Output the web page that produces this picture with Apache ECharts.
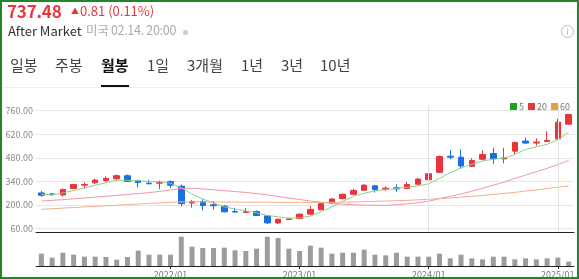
<!DOCTYPE html>
<html><head><meta charset="utf-8">
<script src="https://cdn.jsdelivr.net/npm/echarts@6/dist/echarts.min.js"></script>
<style>
html,body{margin:0;padding:0;background:#fff;}
#wrap{position:relative;width:579px;height:279px;overflow:hidden;font-family:"Noto Sans CJK KR","Noto Sans",sans-serif;}
#chart{position:absolute;left:0;top:0;width:579px;height:279px;}
.t{position:absolute;white-space:nowrap;line-height:1;}
#border{position:absolute;left:0;top:0;width:579px;height:279px;box-sizing:border-box;border:2px solid #23852a;pointer-events:none;}
</style></head>
<body><div id="wrap">
<div id="chart"></div>
<span class="t" style="left:7px;top:2px;font-size:17px;font-weight:bold;color:#e4383d;letter-spacing:-0.2px;">737.48</span>
<span class="t" style="left:71px;top:7px;font-size:8px;color:#e4383d;">▲</span>
<span class="t" style="left:80px;top:4px;font-size:13px;color:#e4383d;">0.81 (0.11%)</span>
<span class="t" style="left:8px;top:24px;font-size:13px;color:#333;">After Market</span>
<span class="t" style="left:86px;top:24px;font-size:12.5px;color:#aaa;letter-spacing:-0.3px;">미국 02.14. 20:00</span>
<span style="position:absolute;left:183px;top:30px;width:5px;height:5px;border-radius:50%;background:#ccc;"></span>
<span class="t" style="left:561px;top:25px;width:11px;height:11px;border:1px solid #bbb;border-radius:50%;font-size:9px;color:#bbb;text-align:center;line-height:11px;">i</span>
<span class="t" style="left:10px;top:57px;font-size:15px;color:#444;">일봉</span>
<span class="t" style="left:55px;top:57px;font-size:15px;color:#444;">주봉</span>
<span class="t" style="left:101px;top:57px;font-size:15px;color:#111;font-weight:bold;">월봉</span>
<span class="t" style="left:147px;top:57px;font-size:15px;color:#444;">1일</span>
<span class="t" style="left:187px;top:57px;font-size:15px;color:#444;">3개월</span>
<span class="t" style="left:241px;top:57px;font-size:15px;color:#444;">1년</span>
<span class="t" style="left:281px;top:57px;font-size:15px;color:#444;">3년</span>
<span class="t" style="left:320px;top:57px;font-size:15px;color:#444;">10년</span>
<div style="position:absolute;left:2px;top:87px;width:575px;height:1px;background:#eee;"></div>
<div style="position:absolute;left:101px;top:85px;width:28px;height:2px;background:#111;"></div>
<div id="border"></div>
</div>
<script>
const categories = ["2021/01","2021/02","2021/03","2021/04","2021/05","2021/06","2021/07","2021/08","2021/09","2021/10","2021/11","2021/12",
"2022/01","2022/02","2022/03","2022/04","2022/05","2022/06","2022/07","2022/08","2022/09","2022/10","2022/11","2022/12",
"2023/01","2023/02","2023/03","2023/04","2023/05","2023/06","2023/07","2023/08","2023/09","2023/10","2023/11","2023/12",
"2024/01","2024/02","2024/03","2024/04","2024/05","2024/06","2024/07","2024/08","2024/09","2024/10","2024/11","2024/12",
"2025/01","2025/02"];
const openP  = [272,266,260,298,318,332,346,356,374,344,330,330,340,312,212,220,202,194,162,156,162,136,94,114,120,146,172,210,238,264,288,314,294,302,298,324,350,394,490,484,430,472,506,474,520,580,568,578,592,680];
const closeP = [258,262,292,322,322,348,358,374,340,334,326,334,318,208,220,198,196,160,158,160,138,94,116,118,146,174,208,236,264,286,318,292,300,296,322,354,386,488,484,432,464,500,476,480,572,568,574,584,692,737.48];
const lowP   = [248,256,250,296,298,326,338,346,338,306,324,294,302,192,184,168,174,156,158,156,134,88,88,112,116,140,170,206,234,258,284,274,284,278,296,318,342,390,472,414,426,466,444,448,500,562,552,578,588,676];
const highP  = [284,272,298,326,334,356,370,382,382,350,350,346,346,322,230,234,224,200,184,182,168,140,118,124,150,194,214,242,268,296,324,320,312,324,338,362,404,494,526,530,478,524,540,540,576,600,596,638,712,742];
const ma5  = [264,260,272,286,300,318,332,348,346,344,340,338,330,302,266,236,212,190,176,166,154,138,130,122,124,134,160,190,222,252,270,284,292,298,306,314,326,358,392,420,442,462,472,478,500,530,546,560,588,632];
const ma20 = [224,228,232,237,242,247,252,257,263,268,274,281,290,298,300,296,291,285,280,275,268,260,251,242,233,224,216,210,205,202,200,199,198,202,207,214,223,238,252,266,282,300,318,336,358,378,398,418,440,464];
const ma60 = [175,178,182,185,189,192,196,199,203,206,210,213,216,219,219,219,218,218,218,217,217,217,216,216,216,216,216,216,217,218,220,222,224,226,228,231,234,238,242,247,252,257,263,269,275,283,290,298,306,314];
const volume = [37,25,40,34,28,28,27,19,27,46,34,34,34,88,58,54,54,55,47,45,52,88,84,52,45,61,55,37,40,40,49,34,32,40,28,28,28,37,23,34,23,20,28,28,20,23,20,23,25,13];
const priceTicks = [60,200,340,480,620,760];
const yearMarks = ["2024/01","2025/01"];

const candles = categories.map((c,i)=>[openP[i],closeP[i],lowP[i],highP[i]]);
const isYear = (idx,val)=> idx>0 && String(val).endsWith('/01');
const RED='#e8353c', BLUE='#1c6fe0';

const chart = echarts.init(document.getElementById('chart'), null, {renderer:'canvas'});
chart.setOption({
  animation:false,
  textStyle:{fontFamily:'"Noto Sans CJK KR","Noto Sans",sans-serif'},
  legend:{
    right:4, top:97, itemWidth:7, itemHeight:7, itemGap:4, icon:'rect',
    textStyle:{fontSize:9,color:'#777',padding:[0,0,0,-3]},
    data:['5','20','60']
  },
  grid:[
    {left:36,right:5,top:105,height:127},
    {left:36,right:5,top:233,height:33}
  ],
  xAxis:[
    {type:'category',gridIndex:0,data:categories,boundaryGap:true,
     axisLine:{lineStyle:{color:'#222',width:1}},axisTick:{show:false},axisLabel:{show:false},splitLine:{show:false}},
    {type:'category',gridIndex:1,data:categories,boundaryGap:true,
     axisLine:{lineStyle:{color:'#222',width:1}},
     axisTick:{show:true,interval:isYear,alignWithLabel:true,length:3,lineStyle:{color:'#222'}},
     axisLabel:{interval:isYear,fontSize:9,color:'#777',margin:4},splitLine:{show:false}}
  ],
  yAxis:[
    {type:'value',gridIndex:0,min:40,max:794,scale:false,
     axisLine:{show:false},
     axisTick:{show:false,customValues:priceTicks},
     axisLabel:{customValues:priceTicks,fontSize:9,color:'#888',margin:3,formatter:v=>v.toFixed(2)},
     splitLine:{show:true,lineStyle:{color:'#e6e6e6',width:1}}},
    {type:'value',gridIndex:1,min:0,max:99,axisLine:{show:false},axisTick:{show:false},axisLabel:{show:false},splitLine:{show:false}}
  ],
  series:[
    {type:'candlestick',name:'price',xAxisIndex:0,yAxisIndex:0,data:candles,barWidth:6,
     itemStyle:{color:RED,color0:BLUE,borderColor:RED,borderColor0:BLUE,borderWidth:1},
     markLine:{silent:true,symbol:['none','none'],label:{show:false},
       lineStyle:{color:'#e4e4e4',type:'solid',width:1},
       data:yearMarks.map(m=>({xAxis:m}))}},
    {type:'line',name:'5',xAxisIndex:0,yAxisIndex:0,data:ma5,symbol:'none',
     itemStyle:{color:'#1aa51a'},lineStyle:{color:'#8fcf8a',width:1}},
    {type:'line',name:'20',xAxisIndex:0,yAxisIndex:0,data:ma20,symbol:'none',
     itemStyle:{color:'#e8353c'},lineStyle:{color:'#ee98a6',width:1}},
    {type:'line',name:'60',xAxisIndex:0,yAxisIndex:0,data:ma60,symbol:'none',
     itemStyle:{color:'#f09a3e'},lineStyle:{color:'#f3ae8c',width:1}},
    {type:'bar',name:'vol',xAxisIndex:1,yAxisIndex:1,data:volume,barWidth:5,
     itemStyle:{color:'#9c9c9c'}}
  ]
});
</script>
</body></html>
